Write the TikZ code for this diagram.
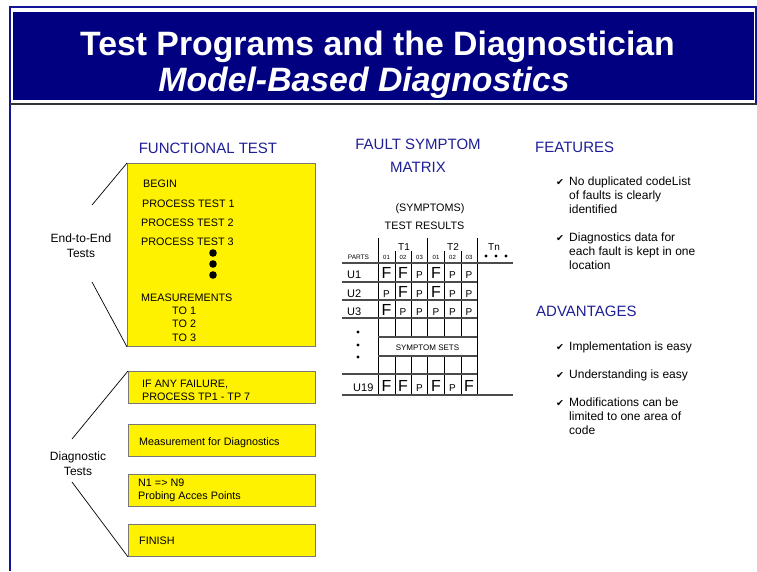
\documentclass[tikz,border=0pt]{standalone}
\usepackage{fontspec}
\setmainfont{Liberation Sans}
\newfontfamily\chkfont{DejaVu Sans}
\usepackage{xcolor}
\definecolor{headnavy}{RGB}{0,0,128}
\definecolor{framenavy}{RGB}{20,20,150}
\definecolor{headblue}{RGB}{30,30,150}
\definecolor{boxgray}{RGB}{120,120,120}
\newcommand{\fsz}[2]{\fontsize{#1}{#2}\selectfont}
\tikzset{
  ybox/.style={draw=boxgray, fill=yellow, line width=0.9pt, inner sep=0, anchor=north west},
  boxtxt/.style={anchor=base west, inner sep=0, align=left, font=\fsz{10.8}{13}},
  sidetxt/.style={anchor=base, inner sep=0, align=center, font=\fsz{12}{15}},
  heading/.style={anchor=base, inner sep=0, align=center, text=headblue, font=\fsz{15}{23}},
  item/.style={anchor=base west, inner sep=0, align=left, font=\fsz{12}{14}},
  chk/.style={anchor=base west, inner sep=0, font=\chkfont\fsz{9.5}{10}},
  tie/.style={line width=0.7pt},
  vrule/.style={line width=0.8pt},
  hrule/.style={line width=1.2pt, black!70},
  cellF/.style={anchor=base, inner sep=0, font=\fsz{16}{16}},
  cellP/.style={anchor=base, inner sep=0, font=\fsz{10}{10}},
  tiny/.style={anchor=base, inner sep=0, font=\fsz{6.5}{7}}
}

\begin{document}
\begin{tikzpicture}[x=1pt, y=-1pt]

    \useasboundingbox (0,0) rectangle (757,571);

    % Header
    \draw[framenavy, line width=1.6pt] (10,571) -- (10,7) -- (756,7) -- (756,104);
    \fill[headnavy] (13,12) rectangle (754,100);
    \draw[black!80, line width=1.2pt] (10,104) -- (757,104);
    \node[anchor=base, inner sep=0, text=white, font=\bfseries\fsz{33.8}{36}] (ttl1) at (377.5,55) {Test Programs and the Diagnostician};
    \node[anchor=base, inner sep=0, text=white, font=\bfseries\itshape\fsz{33.8}{36}] (ttl2) at (364,91) {Model-Based Diagnostics};

    % Functional test (multi-line nodes sit on their last line)
    \node[heading] (fthead) at (208,153) {FUNCTIONAL TEST};
    \node[ybox, minimum width=188, minimum height=183] (ftbox) at (127,163) {};
    \node[boxtxt] (begin) at (143,187) {BEGIN};
    \node[boxtxt] (pt1) at (142,207) {PROCESS TEST 1};
    \node[boxtxt] (pt2) at (141,226) {PROCESS TEST 2};
    \node[boxtxt] (pt3) at (141,245) {PROCESS TEST 3};
    \foreach \y in {253,264,275}
        \fill (213,\y) circle (3.8);
    \node[boxtxt] (meas) at (141,301) {MEASUREMENTS};
    \node[boxtxt] (to1) at (172,314) {TO 1};
    \node[boxtxt] (to2) at (172,327.5) {TO 2};
    \node[boxtxt] (to3) at (172,341) {TO 3};

    \node[sidetxt] (e2e) at (81,257) {End-to-End\\Tests};
    \coordinate (e2etop) at (92,205);
    \coordinate (e2ebot) at (92,282);
    \draw[tie] (ftbox.north west) -- (e2etop);
    \draw[tie] (e2ebot) -- (ftbox.south west);

    % Diagnostic tests
    \node[ybox, minimum width=187, minimum height=32] (dg1) at (128,371) {};
    \node[ybox, minimum width=187, minimum height=32] (dg2) at (128,424) {};
    \node[ybox, minimum width=187, minimum height=32] (dg3) at (128,474) {};
    \node[ybox, minimum width=187, minimum height=32] (dg4) at (128,524) {};
    \node[boxtxt] (fail) at (142,400) {IF ANY FAILURE,\\PROCESS TP1 - TP 7};
    \node[boxtxt] (mdiag) at (139,445) {Measurement for Diagnostics};
    \node[boxtxt] (probe) at (138,499.5) {N1 => N9\\Probing Acces Points};
    \node[boxtxt] (finish) at (139,544) {FINISH};

    \node[sidetxt] (diag) at (78,475) {Diagnostic\\Tests};
    \coordinate (dgtop) at (72,439);
    \coordinate (dgbot) at (72,482);
    \draw[tie] (dg1.north west) -- (dgtop);
    \draw[tie] (dgbot) -- (dg4.south west);

    % Fault symptom matrix
    \node[heading] (fsm) at (418,172) {FAULT SYMPTOM\\MATRIX};
    \node[anchor=base, inner sep=0, font=\fsz{10.8}{12}] (symp) at (430,211) {(SYMPTOMS)};
    \node[anchor=base, inner sep=0, font=\fsz{10.8}{12}] (tres) at (424.5,229) {TEST RESULTS};

    %Grid lines
    \draw[vrule] (378,238) -- (378,395);
    \draw[vrule] (477,238) -- (477,395);
    \draw[vrule] (427,238) -- (427,337);
    \draw[vrule] (427,356) -- (427,395);
    \foreach \x in {395,411,444,461} {
        \draw[vrule] (\x,251) -- (\x,337);
        \draw[vrule] (\x,356) -- (\x,395);
    }
    \draw[hrule] (342,263) -- (513,263);
    \foreach \y in {282,300,318,374}
        \draw[hrule] (342,\y) -- (477,\y);
    \foreach \y in {337,356}
        \draw[hrule] (378,\y) -- (477,\y);
    \draw[hrule] (342,395) -- (513,395);

    %Column heads
    \node[anchor=base, inner sep=0, font=\fsz{10}{10}] (t1) at (404,250) {T1};
    \node[anchor=base, inner sep=0, font=\fsz{10}{10}] (t2) at (453,250.5) {T2};
    \node[anchor=base, inner sep=0, font=\fsz{10}{10}] (tn) at (494,250) {Tn};
    \foreach \x in {486,496,506}
        \fill (\x,256) circle (1.7);
    \node[tiny] (parts) at (358.5,259) {PARTS};
    \foreach \c/\n in {1/01,2/02,3/03,4/01,5/02,6/03}
        \node[tiny, font=\fsz{6}{6}] (col\c) at ({370+16.5*\c},259) {\n};

    %Rows
    \node[anchor=base west, inner sep=0, font=\fsz{11}{11}] (u1) at (347,278) {U1};
    \node[anchor=base west, inner sep=0, font=\fsz{11}{11}] (u2) at (347,297) {U2};
    \node[anchor=base west, inner sep=0, font=\fsz{11}{11}] (u3) at (347,315) {U3};
    \node[anchor=base west, inner sep=0, font=\fsz{11}{11}] (u19) at (353,391) {U19};
    \foreach \y in {332,345,357}
        \fill (358,\y) circle (1.7);
    \foreach \v [count=\c] in {F,F,P,F,P,P}
        \node[cell\v] (ua\c) at ({370+16.5*\c},278) {\v};
    \foreach \v [count=\c] in {P,F,P,F,P,P}
        \node[cell\v] (ub\c) at ({370+16.5*\c},297) {\v};
    \foreach \v [count=\c] in {F,P,P,P,P,P}
        \node[cell\v] (uc\c) at ({370+16.5*\c},315) {\v};
    \foreach \v [count=\c] in {F,F,P,F,P,F}
        \node[cell\v] (ud\c) at ({370+16.5*\c},391) {\v};
    \node[anchor=base, inner sep=0, font=\fsz{8}{8}] (sets) at (427.5,350) {SYMPTOM SETS};

    % Features
    \node[anchor=base west, inner sep=0, text=headblue, font=\fsz{15}{18}] (feat) at (535,152) {FEATURES};
    \node[chk] (ck1) at (556,185) {✔};
    \node[item] (f1) at (569,213) {No duplicated codeList\\of faults is clearly\\identified};
    \node[chk] (ck2) at (556,241) {✔};
    \node[item] (f2) at (569,269) {Diagnostics data for\\each fault is kept in one\\location};

    % Advantages
    \node[anchor=base west, inner sep=0, text=headblue, font=\fsz{15}{18}] (adv) at (536,316) {ADVANTAGES};
    \node[chk] (ck3) at (556,350) {✔};
    \node[item] (a1) at (569,350) {Implementation is easy};
    \node[chk] (ck4) at (556,378) {✔};
    \node[item] (a2) at (569,378) {Understanding is easy};
    \node[chk] (ck5) at (556,406) {✔};
    \node[item] (a3) at (569,434) {Modifications can be\\limited to one area of\\code};

\end{tikzpicture}
\end{document}
